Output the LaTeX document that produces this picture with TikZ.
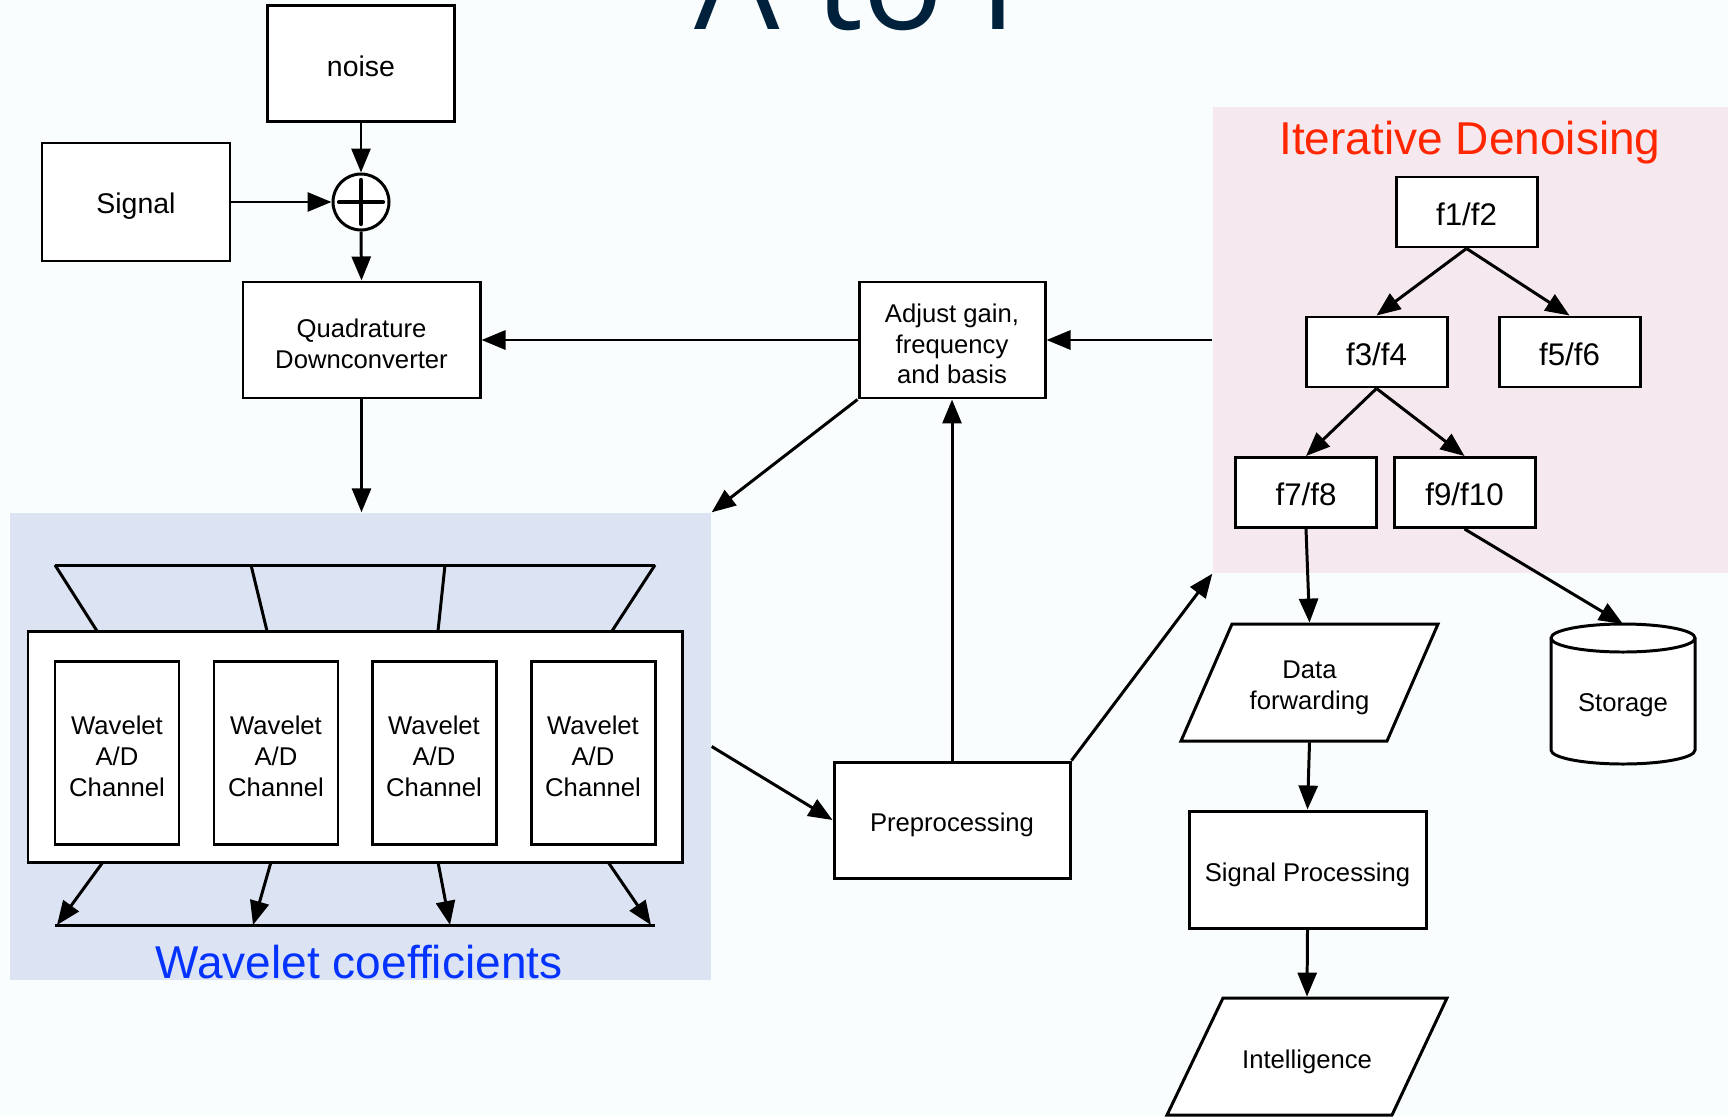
\documentclass[tikz,border=0pt]{standalone}
\usepackage{fontspec}
\setmainfont{Liberation Sans}
\newfontfamily\titlefont{Open Sans}
\usetikzlibrary{arrows.meta}

\definecolor{paper}{RGB}{250,253,253}
\definecolor{wavblue}{RGB}{220,227,242}
\definecolor{denpink}{RGB}{245,232,239}
\definecolor{titlenavy}{RGB}{0,33,59}
\definecolor{denred}{RGB}{255,38,0}
\definecolor{coefblue}{RGB}{4,51,255}

\newcommand{\hstrut}{\rule{0pt}{8.1pt}}
\newcommand{\dstrut}{\rule[-0.7pt]{0pt}{0.7pt}}

\begin{document}
\begin{tikzpicture}[x=0.1mm,y=-0.1mm,
  ln/.style={line width=0.85pt},
  box/.style={draw,fill=white,line width=0.85pt,align=center,inner sep=0pt,
    font=\fontsize{7.3}{8.8}\selectfont},
  srcbox/.style={box,font=\fontsize{8.1}{9.5}\selectfont},
  fltr/.style={box,font=\fontsize{8.9}{10}\selectfont,minimum width=14.1mm,minimum height=7mm},
  label/.style={align=center,inner sep=0pt,outer sep=0.4pt,font=\fontsize{7.3}{8.8}\selectfont},
  chan/.style={box,minimum width=12.4mm,minimum height=18.3mm},
  arr/.style={line width=0.85pt,-{Triangle[length=2.4mm,width=1.9mm]}}]
\useasboundingbox (0,0) rectangle (1728,1116);
\fill[paper] (0,0) rectangle (1728,1116);

\node[anchor=base,inner sep=0,text=titlenavy,font=\titlefont\fontsize{38.4}{40}\selectfont] (title) at (856,29) {A to I};

% shaded groups
\node[fill=wavblue,minimum width=70.1mm,minimum height=46.7mm,inner sep=0] (wav) at (360.5,746.5) {};
\node[fill=denpink,minimum width=51.5mm,minimum height=46.6mm,inner sep=0] (den) at (1470.5,340) {};
\node[anchor=base,inner sep=0,text=coefblue,font=\fontsize{13.1}{15}\selectfont] (coef) at (359,978) {Wavelet coefficients};
\node[anchor=base,inner sep=0,text=denred,font=\fontsize{13.1}{15}\selectfont] (dentitle) at (1470,154) {Iterative Denoising};

% front end
\node[srcbox,minimum width=18.7mm,minimum height=11.6mm] (noise) at (361,63.5) {\hstrut noise\dstrut};
\node[srcbox,minimum width=18.8mm,minimum height=11.8mm] (signal) at (136,202) {\hstrut Signal\dstrut};
\node[draw,circle,fill=white,line width=0.85pt,minimum size=5.6mm,inner sep=0] (sum) at (361,202) {};
\draw[line width=1.2pt,line cap=round] ([xshift=-2.2mm]sum.center) -- ([xshift=2.2mm]sum.center);
\draw[line width=1.2pt,line cap=round] ([yshift=-2.2mm]sum.center) -- ([yshift=2.2mm]sum.center);
\node[box,minimum width=23.7mm,minimum height=11.6mm] (quad) at (361.5,340) {\hstrut Quadrature\\Downconverter\dstrut};
\node[box,minimum width=18.6mm,minimum height=11.6mm] (adjust) at (952,340) {\hstrut Adjust gain,\\frequency\\and basis\dstrut};
\node[box,minimum width=23.6mm,minimum height=11.6mm] (prep) at (952,820) {\hstrut Preprocessing\dstrut};

% wavelet bank
\coordinate (T0) at (55,565);
\coordinate (T1) at (251,565);
\coordinate (T2) at (445,565);
\coordinate (T3) at (655,565);
\coordinate (U0) at (97,631);
\coordinate (U1) at (267,631);
\coordinate (U2) at (438,631);
\coordinate (U3) at (612,631);
\draw[ln] (T0) -- (T3);
\draw[ln] (T0) -- (U0);
\draw[ln] (T1) -- (U1);
\draw[ln] (T2) -- (U2);
\draw[ln] (T3) -- (U3);

\node[box,minimum width=65.4mm,minimum height=23.1mm] (adc) at (355,746.5) {};
\node[chan] (ch1) at (117,752.5) {\hstrut Wavelet\\A/D\\Channel\dstrut};
\node[chan] (ch2) at (276,752.5) {\hstrut Wavelet\\A/D\\Channel\dstrut};
\node[chan] (ch3) at (434,752.5) {\hstrut Wavelet\\A/D\\Channel\dstrut};
\node[chan] (ch4) at (593,752.5) {\hstrut Wavelet\\A/D\\Channel\dstrut};

\coordinate (D0) at (103,862);
\coordinate (D1) at (271,862);
\coordinate (D2) at (438,862);
\coordinate (D3) at (608,862);
\coordinate (E0) at (57,925);
\coordinate (E1) at (253,925);
\coordinate (E2) at (450,925);
\coordinate (E3) at (651,925);
\coordinate (L0) at (55,925);
\coordinate (L1) at (655,925);
\draw[ln] (L0) -- (L1);
\draw[arr] (D0) -- (E0);
\draw[arr] (D1) -- (E1);
\draw[arr] (D2) -- (E2);
\draw[arr] (D3) -- (E3);

% denoising tree
\node[fltr] (f12) at (1466.5,212) {\hstrut f1/f2\dstrut};
\node[fltr] (f34) at (1376.5,352) {\hstrut f3/f4\dstrut};
\node[fltr] (f56) at (1569.5,352) {\hstrut f5/f6\dstrut};
\node[fltr] (f78) at (1306,492.5) {\hstrut f7/f8\dstrut};
\node[fltr] (f910) at (1464.5,492.5) {\hstrut f9/f10\dstrut};

% outputs
\filldraw[ln,fill=white] (1181,741) -- (1232,624) -- (1438,624) -- (1387,741) -- cycle;
\node[label,minimum height=11.7mm] (fwd) at (1309.5,682.5) {\hstrut Data\\forwarding\dstrut};
\node[box,minimum width=23.7mm,minimum height=11.7mm] (sigproc) at (1307.5,869.5) {\hstrut Signal Processing\dstrut};
\filldraw[ln,fill=white] (1167,1115) -- (1223,998) -- (1447,998) -- (1392,1115) -- cycle;
\node[label,minimum height=11.7mm] (intel) at (1307,1056.5) {\hstrut Intelligence\dstrut};

\filldraw[ln,fill=white] (1551,638) -- (1551,750) arc[start angle=180,end angle=0,x radius=72,y radius=14]
  -- (1695,638) arc[start angle=0,end angle=-180,x radius=72,y radius=14] -- cycle;
\draw[ln] (1551,638) arc[start angle=180,end angle=0,x radius=72,y radius=14];
\node[label] (storage) at (1623,700) {\hstrut Storage\dstrut};
\coordinate (stortop) at (1623,624);

% connectors
\draw[arr] (noise.south) -- (sum.north);
\draw[arr] (signal.east) -- (sum.west);
\draw[arr] (sum.south) -- (quad.north);
\draw[arr] (adjust.west) -- (quad.east);
\draw[arr] (den.west) -- (adjust.east);
\draw[arr] (quad.south) -- (quad.south |- wav.north);
\draw[arr] (adjust.south west) -- (wav.north east);
\draw[arr] (wav.east) -- (prep.west);
\draw[arr] (prep.north) -- (adjust.south);
\draw[arr] (prep.north east) -- (den.south west);

\draw[arr] (f12.south) -- (f34.north);
\draw[arr] (f12.south) -- (f56.north);
\draw[arr] (f34.south) -- (f78.north);
\draw[arr] (f34.south) -- (f910.north);
\draw[arr] (f78.south) -- (fwd.north);
\draw[arr] (f910.south) -- (stortop);
\draw[arr] (fwd.south) -- (sigproc.north);
\draw[arr] (sigproc.south) -- (intel.north);
\end{tikzpicture}
\end{document}
